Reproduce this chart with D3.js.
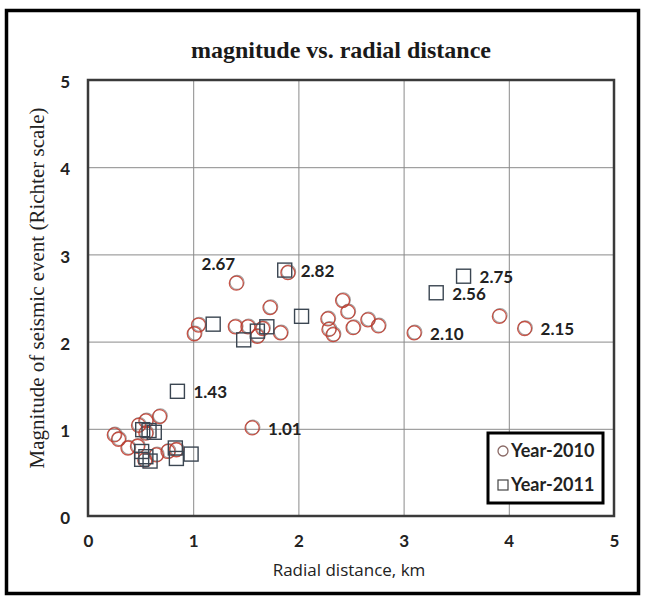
<!DOCTYPE html>
<html>
<head>
<meta charset="utf-8">
<script src="https://cdn.jsdelivr.net/npm/d3@7"></script>
<style>
  body { margin: 0; background: #fff; }
  svg { display: block; }
</style>
</head>
<body>
<svg id="chart" width="646" height="597"></svg>
<script>
// year 2010 events (circles)
var x2010 = [0.25, 0.29, 0.38, 0.47, 0.48, 0.55, 0.68, 0.55, 0.65, 0.76, 0.84, 0.54,
             1.56, 1.41, 1.90, 1.73, 1.05, 1.01, 1.40, 1.52, 1.61, 1.83, 1.66,
             2.42, 2.47, 2.28, 2.29, 2.33, 2.52, 2.66, 2.76, 3.10, 3.91, 4.15];
var y2010 = [0.93, 0.88, 0.78, 0.80, 1.04, 1.09, 1.14, 0.95, 0.70, 0.74, 0.76, 0.64,
             1.01, 2.67, 2.79, 2.39, 2.19, 2.09, 2.17, 2.17, 2.06, 2.10, 2.15,
             2.47, 2.34, 2.26, 2.14, 2.08, 2.16, 2.25, 2.18, 2.10, 2.29, 2.15];

// year 2011 events (squares)
var x2011 = [0.52, 0.58, 0.63, 0.51, 0.55, 0.51, 0.59, 0.83, 0.84, 0.98,
             0.85, 1.19, 1.48, 1.61, 1.70, 2.03, 1.87, 3.31, 3.57];
var y2011 = [0.99, 0.98, 0.96, 0.74, 0.68, 0.65, 0.63, 0.78, 0.66, 0.71,
             1.43, 2.20, 2.02, 2.12, 2.17, 2.29, 2.82, 2.56, 2.75];

// labelled points
var labelText = ["2.67", "2.82", "1.43", "1.01", "2.56", "2.75", "2.10", "2.15"];
var labelX = [1.41, 1.87, 0.85, 1.56, 3.31, 3.57, 3.10, 4.15];
var labelY = [2.67, 2.82, 1.43, 1.01, 2.56, 2.75, 2.10, 2.15];

var xTicks = [0, 1, 2, 3, 4, 5];
var yTicks = [0, 1, 2, 3, 4, 5];

var svg = d3.select('#chart');
var plotLeft = 88, plotRight = 614, plotTop = 80, plotBottom = 516;

var x = d3.scaleLinear().domain([0, 5]).range([plotLeft, plotRight]);
var y = d3.scaleLinear().domain([0, 5]).range([plotBottom, plotTop]);

var sansBold = 'Lato, "Open Sans", sans-serif';
var serif = '"Liberation Serif", "DejaVu Serif", serif';

// outer frame
svg.append('rect')
  .attr('x', 6.5).attr('y', 10.5)
  .attr('width', 632).attr('height', 583)
  .attr('fill', '#fff')
  .attr('stroke', '#000')
  .attr('stroke-width', 3.5);

// title
svg.append('text')
  .attr('x', 341).attr('y', 58)
  .attr('text-anchor', 'middle')
  .attr('fill', '#1a1a1a')
  .style('font-family', serif)
  .style('font-weight', 'bold')
  .style('font-size', '24px')
  .text('magnitude vs. radial  distance');

// grid + tick labels
var xAxis = svg.append('g')
  .attr('transform', 'translate(0,' + plotBottom + ')')
  .call(d3.axisBottom(x).tickValues(xTicks).tickSize(-(plotBottom - plotTop)).tickPadding(19).tickFormat(d3.format('d')));
var yAxis = svg.append('g')
  .attr('transform', 'translate(' + plotLeft + ',0)')
  .call(d3.axisLeft(y).tickValues(yTicks).tickSize(-(plotRight - plotLeft)).tickPadding(18).tickFormat(d3.format('d')));

[xAxis, yAxis].forEach(function (g) {
  g.select('.domain').remove();
  g.selectAll('.tick line').attr('stroke', '#8a8a8a').attr('stroke-width', 1);
  g.selectAll('.tick text')
    .attr('fill', '#222')
    .style('font-family', sansBold)
    .style('font-weight', 'bold')
    .style('font-size', '17px');
});
yAxis.selectAll('.tick text').attr('dy', '0.45em');

// plot frame
svg.append('rect')
  .attr('x', plotLeft).attr('y', plotTop)
  .attr('width', plotRight - plotLeft).attr('height', plotBottom - plotTop)
  .attr('fill', 'none')
  .attr('stroke', '#3a3a3a')
  .attr('stroke-width', 2.5);

// axis titles
svg.append('text')
  .attr('transform', 'translate(37,288) rotate(-90)')
  .attr('text-anchor', 'middle')
  .attr('dy', '0.35em')
  .attr('fill', '#222')
  .style('font-family', serif)
  .style('font-size', '21px')
  .text('Magnitude of seismic event (Richter scale)');

svg.append('text')
  .attr('x', 349).attr('y', 570)
  .attr('text-anchor', 'middle')
  .attr('dy', '0.35em')
  .attr('fill', '#222')
  .style('font-family', '"Open Sans", Lato, sans-serif')
  .style('font-size', '17px')
  .text('Radial distance, km');

// markers
var circles = x2010.map(function (d, i) { return [d, y2010[i]]; });
var squares = x2011.map(function (d, i) { return [d, y2011[i]]; });

svg.append('g').selectAll('circle')
  .data(circles).enter().append('circle')
  .attr('cx', function (d) { return x(d[0]) + 0.8; })
  .attr('cy', function (d) { return y(d[1]) - 0.8; })
  .attr('r', 7)
  .attr('fill', 'none')
  .attr('stroke', '#7a7a7a')
  .attr('stroke-width', 1.1)
  .attr('opacity', 0.7);

svg.append('g').selectAll('circle')
  .data(circles).enter().append('circle')
  .attr('cx', function (d) { return x(d[0]); })
  .attr('cy', function (d) { return y(d[1]); })
  .attr('r', 7)
  .attr('fill', 'none')
  .attr('stroke', '#c0392b')
  .attr('stroke-width', 1.3)
  .attr('opacity', 0.85);

svg.append('g').selectAll('rect')
  .data(squares).enter().append('rect')
  .attr('x', function (d) { return x(d[0]) - 7; })
  .attr('y', function (d) { return y(d[1]) - 7; })
  .attr('width', 14).attr('height', 14)
  .attr('fill', 'none')
  .attr('stroke', '#3b4652')
  .attr('stroke-width', 1.4);

// value labels
svg.append('g').selectAll('text')
  .data(labelText).enter().append('text')
  .attr('x', function (d, i) { return d == '2.67' ? x(labelX[i]) - 18 : x(labelX[i]) + 16; })
  .attr('y', function (d, i) { return d == '2.67' ? y(labelY[i]) - 19 : y(labelY[i]) + 1; })
  .attr('dy', '0.35em')
  .attr('text-anchor', function (d) { return d == '2.67' ? 'middle' : 'start'; })
  .attr('fill', '#222')
  .style('font-family', sansBold)
  .style('font-weight', 'bold')
  .style('font-size', '17px')
  .text(function (d) { return d; });

// legend
var legend = svg.append('g');
legend.append('rect')
  .attr('x', 488).attr('y', 433)
  .attr('width', 115).attr('height', 70)
  .attr('fill', '#fff')
  .attr('stroke', '#000')
  .attr('stroke-width', 3);
legend.append('circle')
  .attr('cx', 503).attr('cy', 451).attr('r', 5)
  .attr('fill', 'none').attr('stroke', '#8a6a66').attr('stroke-width', 1.3);
legend.append('rect')
  .attr('x', 498).attr('y', 480).attr('width', 10).attr('height', 10)
  .attr('fill', 'none').attr('stroke', '#444').attr('stroke-width', 1.2);
legend.append('text')
  .attr('x', 511).attr('y', 451).attr('dy', '0.35em')
  .attr('fill', '#222')
  .style('font-family', sansBold).style('font-weight', 'bold').style('font-size', '18px')
  .text('Year-2010');
legend.append('text')
  .attr('x', 511).attr('y', 485).attr('dy', '0.35em')
  .attr('fill', '#222')
  .style('font-family', sansBold).style('font-weight', 'bold').style('font-size', '18px')
  .text('Year-2011');
</script>
</body>
</html>
